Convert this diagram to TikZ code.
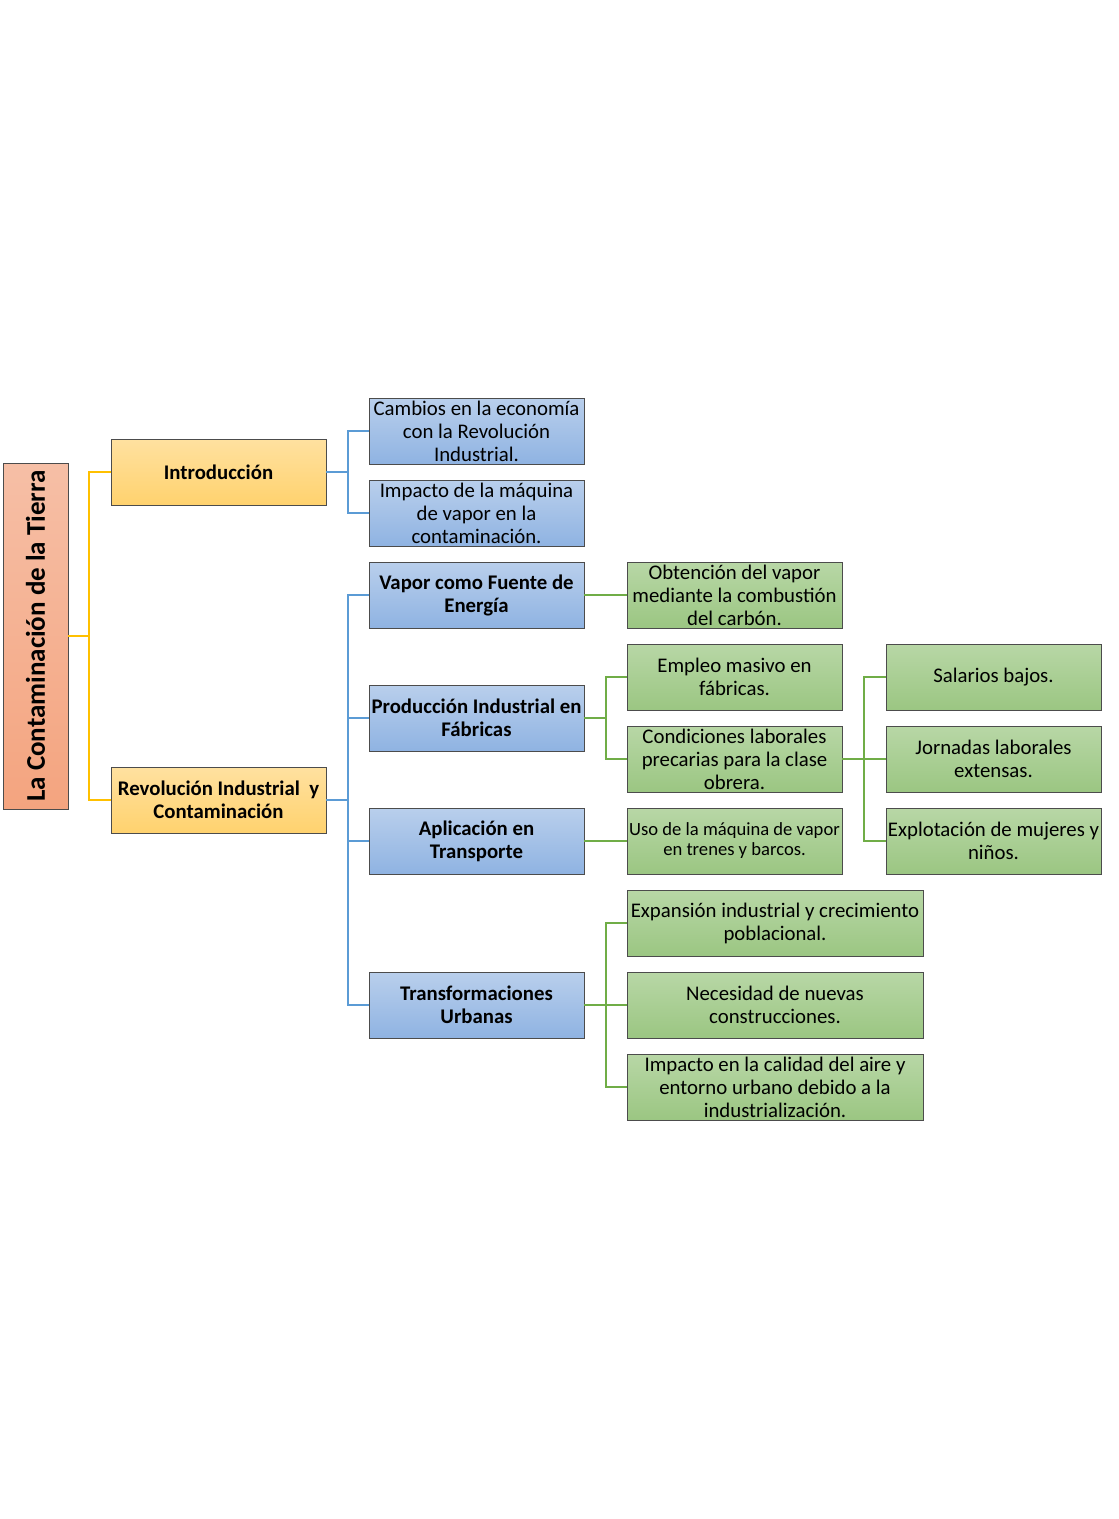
\documentclass[tikz,border=0pt]{standalone}
\usepackage{fontspec}
\setmainfont{Carlito}
\begin{document}
\begin{tikzpicture}[x=0.5pt,y=-0.5pt,
  box/.style={draw=black!70, line width=0.4pt, inner sep=0pt, align=center,
    font=\fontsize{10.4}{11.5}\selectfont},
  bx/.style 2 args={minimum width=#1*0.5pt, minimum height=#2*0.5pt},
  rootbox/.style={box, top color=rootTop, bottom color=rootBot},
  ybox/.style={box, top color=yTop, bottom color=yBot, font=\fontsize{10.4}{11.5}\selectfont\bfseries},
  bbox/.style={box, top color=bTop, bottom color=bBot},
  bbold/.style={bbox, font=\fontsize{10.4}{11.5}\selectfont\bfseries},
  gbox/.style={box, top color=gTop, bottom color=gBot},
  yline/.style={draw=yLine, line width=1pt},
  bline/.style={draw=bLine, line width=1pt},
  gline/.style={draw=gLine, line width=1pt}]
\definecolor{rootTop}{HTML}{F6BFA6}
\definecolor{rootBot}{HTML}{F4A47F}
\definecolor{yTop}{HTML}{FFE1A0}
\definecolor{yBot}{HTML}{FFD26E}
\definecolor{bTop}{HTML}{B9CFEC}
\definecolor{bBot}{HTML}{8FB3E2}
\definecolor{gTop}{HTML}{B8D7A6}
\definecolor{gBot}{HTML}{9BC682}
\definecolor{yLine}{HTML}{FFC000}
\definecolor{bLine}{HTML}{5B9BD5}
\definecolor{gLine}{HTML}{70AD47}
\useasboundingbox (0,0) rectangle (1118,1519);

% root
\node[rootbox, bx={65}{346}] (root) at (35.5,636) {};
\node[rotate=90, font=\fontsize{13.5}{15}\selectfont\bfseries] (roottxt) at (root.center) {La Contaminación de la Tierra};

% level 1
\node[ybox, bx={215}{66}] (intro) at (218.5,472) {Introducción};
\node[ybox, bx={215}{66}] (rev) at (218.5,800) {Revolución Industrial\ \ y\\Contaminación};

% level 2
\node[bbox, bx={215}{66}] (camb) at (476.5,431) {Cambios en la economía\\con la Revolución\\Industrial.};
\node[bbox, bx={215}{66}] (imp) at (476.5,513) {Impacto de la máquina\\de vapor en la\\contaminación.};
\node[bbold, bx={215}{66}] (vap) at (476.5,595) {Vapor como Fuente de\\Energía};
\node[bbold, bx={215}{66}] (prod) at (476.5,718) {Producción Industrial en\\Fábricas};
\node[bbold, bx={215}{66}] (apl) at (476.5,841) {Aplicación en\\Transporte};
\node[bbold, bx={215}{66}] (trans) at (476.5,1005) {Transformaciones\\Urbanas};

% level 3
\node[gbox, bx={215}{66}] (obt) at (734.5,595) {Obtención del vapor\\mediante la combustión\\del carbón.};
\node[gbox, bx={215}{66}] (emp) at (734.5,677) {Empleo masivo en\\fábricas.};
\node[gbox, bx={215}{66}] (cond) at (734.5,759) {Condiciones laborales\\precarias para la clase\\obrera.};
\node[gbox, bx={215}{66}, font=\fontsize{9.3}{10}\selectfont] (uso) at (734.5,841) {Uso de la máquina de vapor\\en trenes y barcos.};
\node[gbox, bx={296}{66}] (exp) at (775,923) {Expansión industrial y crecimiento\\poblacional.};
\node[gbox, bx={296}{66}] (nec) at (775,1005) {Necesidad de nuevas\\construcciones.};
\node[gbox, bx={296}{66}] (cal) at (775,1087) {Impacto en la calidad del aire y\\entorno urbano debido a la\\industrialización.};

% level 4
\node[gbox, bx={215}{66}] (sal) at (993.5,677) {Salarios bajos.};
\node[gbox, bx={215}{66}] (jor) at (993.5,759) {Jornadas laborales\\extensas.};
\node[gbox, bx={215}{66}] (expl) at (993.5,841) {Explotación de mujeres y\\niños.};

% connectors
\coordinate (j0) at (89,636);
\draw[yline] (root.east) -- (j0);
\draw[yline] (j0) |- (intro.west);
\draw[yline] (j0) |- (rev.west);

\coordinate (j1) at (348,472);
\draw[bline] (intro.east) -- (j1);
\draw[bline] (j1) |- (camb.west);
\draw[bline] (j1) |- (imp.west);

\coordinate (j2) at (348,800);
\draw[bline] (rev.east) -- (j2);
\draw[bline] (j2) |- (vap.west);
\draw[bline] (j2) |- (prod.west);
\draw[bline] (j2) |- (apl.west);
\draw[bline] (j2) |- (trans.west);

\draw[gline] (vap.east) -- (obt.west);
\draw[gline] (apl.east) -- (uso.west);

\coordinate (j3) at (606,718);
\draw[gline] (prod.east) -- (j3);
\draw[gline] (j3) |- (emp.west);
\draw[gline] (j3) |- (cond.west);

\coordinate (j4) at (864,759);
\draw[gline] (cond.east) -- (j4);
\draw[gline] (j4) |- (sal.west);
\draw[gline] (j4) |- (jor.west);
\draw[gline] (j4) |- (expl.west);

\coordinate (j5) at (606,1005);
\draw[gline] (trans.east) -- (j5);
\draw[gline] (j5) |- (exp.west);
\draw[gline] (j5) |- (nec.west);
\draw[gline] (j5) |- (cal.west);
\end{tikzpicture}
\end{document}
